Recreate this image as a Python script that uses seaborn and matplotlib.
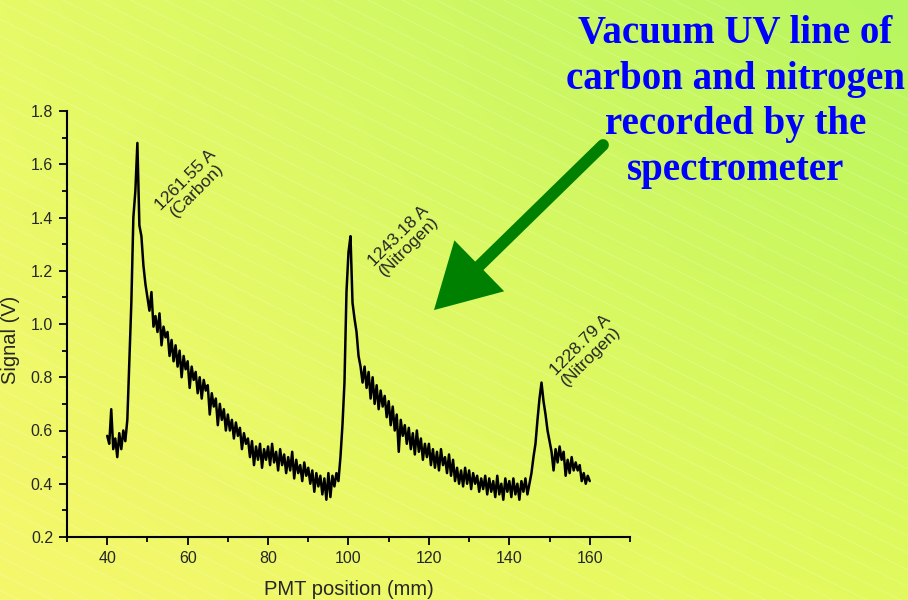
import numpy as np
import pandas as pd
import matplotlib
matplotlib.use("Agg")
import matplotlib.pyplot as plt
from matplotlib.ticker import MultipleLocator, FormatStrFormatter
from matplotlib.lines import Line2D
from matplotlib.patches import FancyArrowPatch
import seaborn as sns

# ---------------- data ----------------
x_start, x_step = 40.0, 0.5  # PMT position sampling (mm)
signal = [
    0.58, 0.55, 0.68, 0.53, 0.57, 0.50, 0.59, 0.53, 0.60, 0.56,   # 40.0-44.5
    0.64, 0.86, 1.08, 1.40, 1.50, 1.68, 1.37, 1.33, 1.22, 1.15,   # 45.0-49.5
    1.10, 1.05, 1.12, 0.99, 1.03, 0.97, 1.04, 0.92, 0.99, 0.95,   # 50.0-54.5
    0.97, 0.88, 0.94, 0.86, 0.92, 0.84, 0.90, 0.80, 0.88, 0.83,   # 55.0-59.5
    0.86, 0.76, 0.84, 0.79, 0.82, 0.74, 0.80, 0.72, 0.79, 0.75,   # 60.0-64.5
    0.77, 0.66, 0.74, 0.69, 0.72, 0.62, 0.70, 0.64, 0.68, 0.60,   # 65.0-69.5
    0.66, 0.60, 0.64, 0.57, 0.63, 0.58, 0.61, 0.53, 0.59, 0.55,   # 70.0-74.5
    0.57, 0.50, 0.56, 0.47, 0.54, 0.49, 0.55, 0.46, 0.53, 0.49,   # 75.0-79.5
    0.54, 0.47, 0.55, 0.48, 0.52, 0.45, 0.53, 0.47, 0.51, 0.44,   # 80.0-84.5
    0.50, 0.45, 0.52, 0.42, 0.49, 0.44, 0.47, 0.41, 0.48, 0.43,   # 85.0-89.5
    0.46, 0.40, 0.45, 0.37, 0.44, 0.39, 0.43, 0.36, 0.42, 0.34,   # 90.0-94.5
    0.44, 0.35, 0.43, 0.39, 0.44, 0.41, 0.50, 0.62, 0.78, 1.12,   # 95.0-99.5
    1.27, 1.33, 1.08, 1.02, 0.97, 0.88, 0.84, 0.78, 0.84, 0.76,   # 100.0-104.5
    0.82, 0.72, 0.80, 0.70, 0.77, 0.68, 0.75, 0.69, 0.73, 0.65,   # 105.0-109.5
    0.71, 0.62, 0.69, 0.60, 0.66, 0.52, 0.64, 0.58, 0.62, 0.55,   # 110.0-114.5
    0.61, 0.53, 0.59, 0.51, 0.60, 0.52, 0.57, 0.49, 0.55, 0.50,   # 115.0-119.5
    0.55, 0.47, 0.53, 0.46, 0.52, 0.45, 0.53, 0.47, 0.50, 0.44,   # 120.0-124.5
    0.51, 0.43, 0.49, 0.41, 0.46, 0.40, 0.45, 0.39, 0.46, 0.40,   # 125.0-129.5
    0.45, 0.38, 0.44, 0.40, 0.43, 0.37, 0.42, 0.38, 0.43, 0.36,   # 130.0-134.5
    0.42, 0.37, 0.41, 0.35, 0.43, 0.36, 0.40, 0.34, 0.42, 0.37,   # 135.0-139.5
    0.41, 0.35, 0.42, 0.36, 0.40, 0.34, 0.41, 0.37, 0.42, 0.36,   # 140.0-144.5
    0.40, 0.44, 0.50, 0.55, 0.64, 0.72, 0.78, 0.71, 0.66, 0.60,   # 145.0-149.5
    0.56, 0.52, 0.45, 0.53, 0.48, 0.54, 0.49, 0.52, 0.43, 0.49,   # 150.0-154.5
    0.44, 0.50, 0.45, 0.48, 0.45, 0.47, 0.41, 0.44, 0.40, 0.43,   # 155.0-159.5
    0.41,                                                         # 160.0
]
position = x_start + x_step * np.arange(len(signal))

x_ticks = [40, 60, 80, 100, 120, 140, 160]
y_ticks = [0.2, 0.4, 0.6, 0.8, 1.0, 1.2, 1.4, 1.6, 1.8]

peak_labels = ["1261.55 A\n(Carbon)", "1243.18 A\n(Nitrogen)", "1228.79 A\n(Nitrogen)"]
peak_label_xy = [(60.9, 1.52), (113.8, 1.31), (159.0, 0.90)]

title_lines = ["Vacuum UV line of", "carbon and nitrogen", "recorded by the", "spectrometer"]

df = pd.DataFrame({"PMT position (mm)": position, "Signal (V)": signal})

# ---------------- figure ----------------
sns.set_style("ticks")
plt.rcParams["font.family"] = ["Liberation Sans", "DejaVu Sans"]

fig = plt.figure(figsize=(9.08, 6.0), dpi=100)

# gradient background
bg = fig.add_axes([0, 0, 1, 1], zorder=-10)
bl = np.array([0xF6, 0xF7, 0x6C]) / 255.0
br = np.array([0xE2, 0xFA, 0x5C]) / 255.0
tl = np.array([0xE6, 0xFA, 0x66]) / 255.0
tr = np.array([0xB6, 0xF6, 0x60]) / 255.0
u = np.linspace(0, 1, 300)[None, :, None]
v = np.linspace(0, 1, 200)[:, None, None]
img = (1 - v) * ((1 - u) * bl + u * br) + v * ((1 - u) * tl + u * tr)
bg.imshow(img, origin="lower", extent=[0, 1, 0, 1], aspect="auto")
for c in np.arange(-0.6, 1.6, 0.028):
    xs = np.array([0, 1])
    bg.plot(xs, c - 0.75 * xs, color="white", lw=0.5, alpha=0.28)
bg.set_xlim(0, 1)
bg.set_ylim(0, 1)
bg.axis("off")

ax = fig.add_axes([0.0738, 0.105, 0.6200, 0.710])
ax.set_facecolor("none")
sns.lineplot(data=df, x="PMT position (mm)", y="Signal (V)", ax=ax,
             color="black", lw=1.8, estimator=None, sort=False)

ax.set_xlim(30, 170)
ax.set_ylim(0.2, 1.8)
ax.set_xticks(x_ticks)
ax.set_yticks(y_ticks)
ax.xaxis.set_minor_locator(MultipleLocator(10))
ax.yaxis.set_minor_locator(MultipleLocator(0.1))
ax.yaxis.set_major_formatter(FormatStrFormatter("%.1f"))
ax.tick_params(which="major", direction="out", length=6, width=1.3, labelsize=11.5, pad=4, color="black")
ax.tick_params(which="minor", direction="out", length=3.5, width=1.3, color="black")
for s in ["top", "right"]:
    ax.spines[s].set_visible(False)
for s in ["left", "bottom"]:
    ax.spines[s].set_linewidth(1.5)
    ax.spines[s].set_color("black")
ax.set_xlabel("PMT position (mm)", fontsize=14.5, labelpad=10)
ax.set_ylabel("Signal (V)", fontsize=14.5, labelpad=8, y=0.462)

for txt, (px, py) in zip(peak_labels, peak_label_xy):
    ax.text(px, py, txt, rotation=45, ha="center", va="center",
            fontsize=12.5, rotation_mode="anchor", linespacing=1.0,
            family=["Liberation Sans Narrow", "Liberation Sans"])

# title text
fig.text(0.81, 0.830, "\n".join(title_lines), ha="center", va="center",
         fontsize=28, fontweight="bold", color="#0000FF",
         family=["Liberation Serif", "DejaVu Serif"], linespacing=1.31)

# green arrow: round-capped shaft + filled head
p0 = (603 / 908, 1 - 145 / 600)
p1 = (432 / 908, 1 - 312 / 600)
pm = (p0[0] + 0.75 * (p1[0] - p0[0]), p0[1] + 0.75 * (p1[1] - p0[1]))
fig.add_artist(Line2D([p0[0], pm[0]], [p0[1], pm[1]], transform=fig.transFigure,
                      color="#008000", lw=8.5, solid_capstyle="round"))
fig.patches.append(FancyArrowPatch(
    pm, p1, transform=fig.transFigure,
    arrowstyle="simple,head_length=2.4,head_width=2.7,tail_width=0.6",
    mutation_scale=19, color="#008000", lw=0))

fig.savefig("out.png", dpi=100)
